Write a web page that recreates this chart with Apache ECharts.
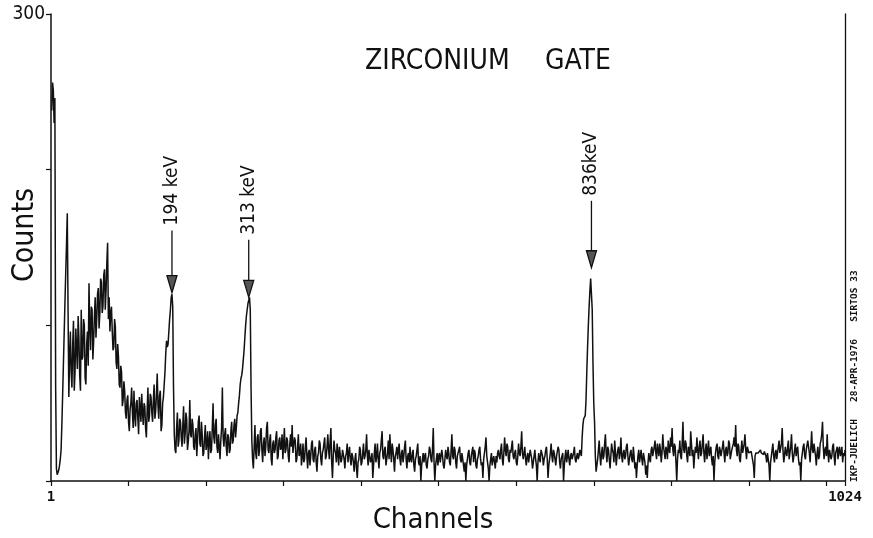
<!DOCTYPE html>
<html>
<head>
<meta charset="utf-8">
<script src="https://cdn.jsdelivr.net/npm/echarts@6/dist/echarts.min.js"></script>
<style>
  html, body { margin: 0; padding: 0; background: #fff; }
  #chart { width: 873px; height: 538px; }
</style>
</head>
<body>
<div id="chart"></div>
<script>
// Gamma spectrum, one count value per channel (channels 1 ... 1024)
const FIRST_CHANNEL = 1;

// channels 1 - 256: low-energy bump, 194 keV and 313 keV lines
const countsA = [
  238, 256, 251, 230, 246, 60, 8, 4, 5, 7, 10, 14, 20, 36, 55, 75, 95, 115, 134, 152, 172, 110, 54, 80, 96, 70, 60, 88, 103, 58, 70, 98,
  85, 72, 106, 92, 68, 58, 110, 78, 80, 104, 100, 66, 62, 88, 96, 74, 127, 100, 84, 112, 110, 78, 90, 106, 118, 92, 104, 120, 124, 98, 108, 130,
  128, 108, 112, 132, 136, 110, 122, 140, 153, 104, 118, 96, 108, 112, 96, 84, 86, 104, 99, 76, 72, 88, 80, 62, 60, 74, 70, 48, 52, 64, 58, 44,
  40, 52, 55, 38, 32, 46, 50, 60, 44, 34, 58, 42, 35, 50, 52, 40, 30, 54, 47, 38, 56, 44, 36, 50, 48, 34, 28, 45, 60, 38, 42, 56,
  54, 44, 38, 52, 62, 40, 45, 56, 69, 48, 40, 55, 58, 32, 36, 50, 54, 62, 70, 82, 90, 86, 88, 96, 104, 110, 118, 120, 112, 60, 30, 20,
  18, 34, 44, 22, 26, 40, 38, 28, 22, 36, 48, 24, 30, 44, 40, 20, 25, 32, 52, 30, 28, 40, 36, 22, 20, 30, 34, 16, 26, 38, 42, 24,
  22, 38, 30, 16, 18, 28, 36, 20, 24, 32, 14, 26, 32, 18, 20, 34, 50, 28, 24, 36, 40, 22, 18, 30, 30, 14, 26, 34, 60, 28, 22, 30,
  34, 22, 16, 30, 28, 18, 20, 32, 38, 24, 26, 36, 40, 28, 34, 42, 44, 50, 55, 62, 66, 68, 72, 78, 84, 92, 100, 106, 110, 114, 116, 118
];

// channels 257 - 512: background
const countsB = [
  110, 60, 26, 14, 8, 22, 36, 18, 14, 28, 30, 16, 20, 32, 34, 20, 12, 24, 28, 16, 22, 34, 38, 20, 18, 26, 30, 14, 10, 24, 26, 18,
  20, 28, 32, 14, 16, 26, 28, 20, 22, 30, 14, 24, 34, 18, 20, 28, 26, 16, 12, 24, 30, 22, 36, 18, 18, 28, 26, 12, 14, 22, 30, 16,
  18, 24, 10, 16, 24, 12, 14, 22, 28, 16, 8, 18, 20, 10, 16, 24, 26, 14, 12, 20, 22, 12, 6, 16, 18, 26, 24, 14, 10, 18, 20, 24,
  28, 14, 16, 22, 30, 20, 14, 26, 34, 12, 2, 16, 26, 20, 18, 12, 24, 18, 10, 22, 22, 12, 14, 20, 20, 14, 8, 16, 18, 24, 12, 18,
  22, 14, 10, 18, 16, 12, 6, 14, 18, 8, 2, 12, 14, 22, 20, 10, 12, 18, 24, 14, 16, 20, 30, 16, 10, 20, 20, 12, 14, 18, 2, 10,
  18, 24, 12, 16, 24, 14, 8, 18, 20, 26, 32, 16, 14, 20, 22, 10, 10, 18, 26, 14, 30, 20, 12, 24, 20, 14, 6, 16, 18, 22, 14, 20,
  24, 14, 10, 18, 20, 12, 16, 22, 26, 14, 8, 16, 18, 12, 22, 14, 12, 18, 20, 10, 6, 14, 16, 20, 24, 12, 10, 16, 0, 10, 14, 18,
  12, 16, 18, 10, 8, 14, 16, 22, 20, 14, 12, 20, 34, 12, 0, 10, 14, 18, 10, 16, 18, 12, 12, 20, 16, 10, 8, 14, 20, 16, 14, 22
];

// channels 513 - 768: background and the 836 keV line
const countsC = [
  18, 12, 10, 20, 30, 16, 14, 22, 20, 12, 8, 16, 16, 20, 22, 14, 12, 18, 18, 10, 6, 12, 0, 10, 14, 18, 20, 12, 10, 16, 16, 22,
  12, 20, 18, 10, 8, 14, 16, 20, 22, 14, 10, 12, 2, 14, 18, 22, 28, 16, 12, 8, 0, 10, 14, 18, 10, 14, 16, 12, 8, 16, 12, 18,
  20, 16, 14, 20, 24, 14, 10, 18, 28, 20, 16, 24, 22, 14, 12, 20, 18, 22, 26, 16, 14, 18, 20, 12, 10, 16, 24, 18, 16, 22, 32, 18,
  14, 18, 22, 14, 10, 16, 18, 12, 12, 20, 20, 14, 8, 12, 16, 20, 14, 10, 0, 12, 18, 14, 12, 20, 20, 16, 10, 14, 16, 20, 22, 14,
  2, 10, 14, 18, 24, 16, 12, 20, 18, 14, 10, 16, 16, 22, 20, 12, 8, 14, 14, 18, 0, 10, 16, 20, 12, 16, 20, 14, 10, 16, 18, 14,
  14, 18, 22, 14, 12, 16, 18, 14, 16, 20, 20, 16, 28, 36, 40, 41, 42, 52, 70, 86, 100, 112, 122, 130, 131, 110, 75, 50, 38, 16, 6, 10,
  14, 20, 26, 16, 10, 18, 22, 14, 16, 24, 30, 18, 12, 22, 20, 14, 8, 16, 24, 20, 18, 12, 26, 18, 10, 16, 20, 22, 14, 18, 28, 16,
  12, 18, 20, 14, 16, 22, 24, 16, 10, 14, 18, 20, 14, 12, 22, 16, 8, 12, 2, 10, 16, 20, 12, 16, 20, 14, 10, 18, 18, 12, 4, 10
];

// channels 769 - 1024: background
const countsD = [
  2, 12, 18, 14, 12, 20, 22, 16, 16, 22, 26, 18, 14, 24, 20, 16, 24, 20, 12, 18, 30, 22, 18, 14, 22, 20, 14, 26, 20, 18, 28, 22,
  34, 20, 16, 24, 22, 12, 0, 14, 20, 18, 26, 16, 14, 24, 38, 20, 18, 26, 24, 16, 12, 22, 20, 16, 32, 24, 16, 20, 8, 16, 22, 18,
  28, 20, 14, 22, 26, 16, 18, 24, 30, 18, 12, 20, 24, 14, 20, 26, 16, 20, 22, 14, 10, 16, 0, 12, 18, 22, 24, 16, 14, 22, 20, 16,
  16, 22, 26, 18, 12, 20, 22, 16, 18, 26, 24, 14, 14, 20, 20, 24, 28, 22, 36, 20, 16, 24, 22, 14, 12, 20, 26, 18, 18, 24, 30, 20,
  14, 22, 20, 18, 18, 19, 19, 18, 18, 10, 2, 16, 18, 18, 19, 18, 18, 19, 20, 18, 18, 18, 17, 19, 20, 16, 12, 18, 18, 10, 0, 12,
  16, 20, 24, 16, 12, 18, 20, 14, 14, 22, 26, 18, 18, 24, 34, 20, 12, 16, 22, 18, 16, 22, 26, 14, 14, 22, 30, 18, 12, 16, 20, 24,
  16, 20, 22, 14, 10, 12, 0, 14, 18, 22, 24, 16, 14, 20, 20, 26, 26, 18, 12, 22, 32, 20, 18, 24, 24, 16, 10, 18, 22, 14, 16, 24,
  26, 30, 38, 22, 14, 20, 22, 16, 30, 18, 12, 20, 20, 14, 16, 22, 24, 16, 10, 18, 20, 22, 14, 20, 22, 16, 18, 22, 12, 18, 16, 20
];

// Marked gamma lines: label, channel, arrow tip and arrow tail (in counts)
const peakLabels = ['194 keV', '313 keV', '836keV'];
const peakChannels = [156, 255, 697];
const arrowTipCounts = [121, 118, 137];
const arrowTailCounts = [161, 155, 180];

// Axis labels shown at the ends of the axes only
const xTickLabels = { 0: '1', 1024: '1024' };
const yTickLabels = { 300: '300' };

const titleWords = ['ZIRCONIUM', 'GATE'];
const plotStamp = 'IKP-JUELICH   28-APR-1976   SIRTOS 33';

const FONT = '"DejaVu Sans Condensed", "DejaVu Sans", sans-serif';
const MONO = '"DejaVu Sans Mono", monospace';
const INK = '#111';

const counts = countsA.concat(countsB, countsC, countsD);
const spectrum = counts.map((c, i) => [FIRST_CHANNEL + i, c]);
const peakMarks = peakChannels.map((ch, i) => [ch, arrowTipCounts[i], arrowTailCounts[i], i]);

const chart = echarts.init(document.getElementById('chart'), null, { renderer: 'canvas' });

chart.setOption({
  animation: false,
  backgroundColor: '#fff',
  grid: { left: 51, right: 28, top: 14, bottom: 57, outerBoundsMode: 'none' },
  xAxis: {
    type: 'value',
    min: 0,
    max: 1024,
    interval: 100,
    axisLine: { show: true, onZero: false, lineStyle: { color: INK, width: 1.5 } },
    axisTick: { show: true, length: 5, lineStyle: { color: INK, width: 1.2 } },
    splitLine: { show: false },
    axisLabel: {
      margin: 9,
      color: INK,
      fontFamily: MONO,
      fontWeight: 'bold',
      fontSize: 14,
      formatter: v => xTickLabels[v] || ''
    }
  },
  yAxis: [
    {
      type: 'value',
      min: 0,
      max: 300,
      interval: 100,
      axisLine: { show: true, lineStyle: { color: INK, width: 1.5 } },
      axisTick: { show: true, length: 5, lineStyle: { color: INK, width: 1.2 } },
      splitLine: { show: false },
      axisLabel: {
        margin: 6,
        color: INK,
        fontFamily: FONT,
        fontSize: 19,
        formatter: v => yTickLabels[v] || ''
      }
    },
    {
      type: 'value',
      position: 'right',
      min: 0,
      max: 300,
      axisLine: { show: true, lineStyle: { color: INK, width: 1.3 } },
      axisTick: { show: false },
      axisLabel: { show: false },
      splitLine: { show: false }
    }
  ],
  series: [
    {
      type: 'line',
      data: spectrum,
      yAxisIndex: 0,
      smooth: false,
      showSymbol: false,
      symbol: 'none',
      sampling: null,
      lineStyle: { color: INK, width: 1.5 },
      z: 3
    },
    {
      type: 'custom',
      data: peakMarks,
      yAxisIndex: 0,
      clip: false,
      z: 4,
      renderItem: function (params, api) {
        const ch = api.value(0);
        const tip = api.coord([ch, api.value(1)]);
        const tail = api.coord([ch, api.value(2)]);
        const label = peakLabels[api.value(3)];
        const headH = 17, headW = 5;
        return {
          type: 'group',
          children: [
            {
              type: 'line',
              shape: { x1: tail[0], y1: tail[1], x2: tip[0], y2: tip[1] - headH },
              style: { stroke: INK, lineWidth: 1.3 }
            },
            {
              type: 'polygon',
              shape: { points: [[tip[0] - headW, tip[1] - headH], [tip[0] + headW, tip[1] - headH], [tip[0], tip[1]]] },
              style: { fill: '#555', stroke: INK, lineWidth: 1.3 }
            },
            {
              type: 'text',
              x: tail[0],
              y: tail[1] - 5,
              rotation: Math.PI / 2,
              style: {
                text: label,
                fontFamily: FONT,
                fontSize: 19,
                fill: INK,
                align: 'left',
                verticalAlign: 'middle'
              }
            }
          ]
        };
      }
    }
  ],
  graphic: [
    {
      type: 'text', x: 365, y: 62,
      style: { text: titleWords[0], fontFamily: FONT, fontSize: 28, fill: INK, align: 'left', verticalAlign: 'middle' }
    },
    {
      type: 'text', x: 545, y: 62,
      style: { text: titleWords[1], fontFamily: FONT, fontSize: 28, fill: INK, align: 'left', verticalAlign: 'middle' }
    },
    {
      type: 'text', x: 25, y: 235, rotation: Math.PI / 2,
      style: { text: 'Counts', fontFamily: FONT, fontSize: 30, fill: INK, align: 'center', verticalAlign: 'middle' }
    },
    {
      type: 'text', x: 433, y: 520,
      style: { text: 'Channels', fontFamily: FONT, fontSize: 29, fill: INK, align: 'center', verticalAlign: 'middle' }
    },
    {
      type: 'text', x: 855, y: 482, rotation: Math.PI / 2,
      style: { text: plotStamp, fontFamily: MONO, fontWeight: 'bold', fontSize: 9.5, fill: INK, align: 'left', verticalAlign: 'middle' }
    }
  ]
});
</script>
</body>
</html>
